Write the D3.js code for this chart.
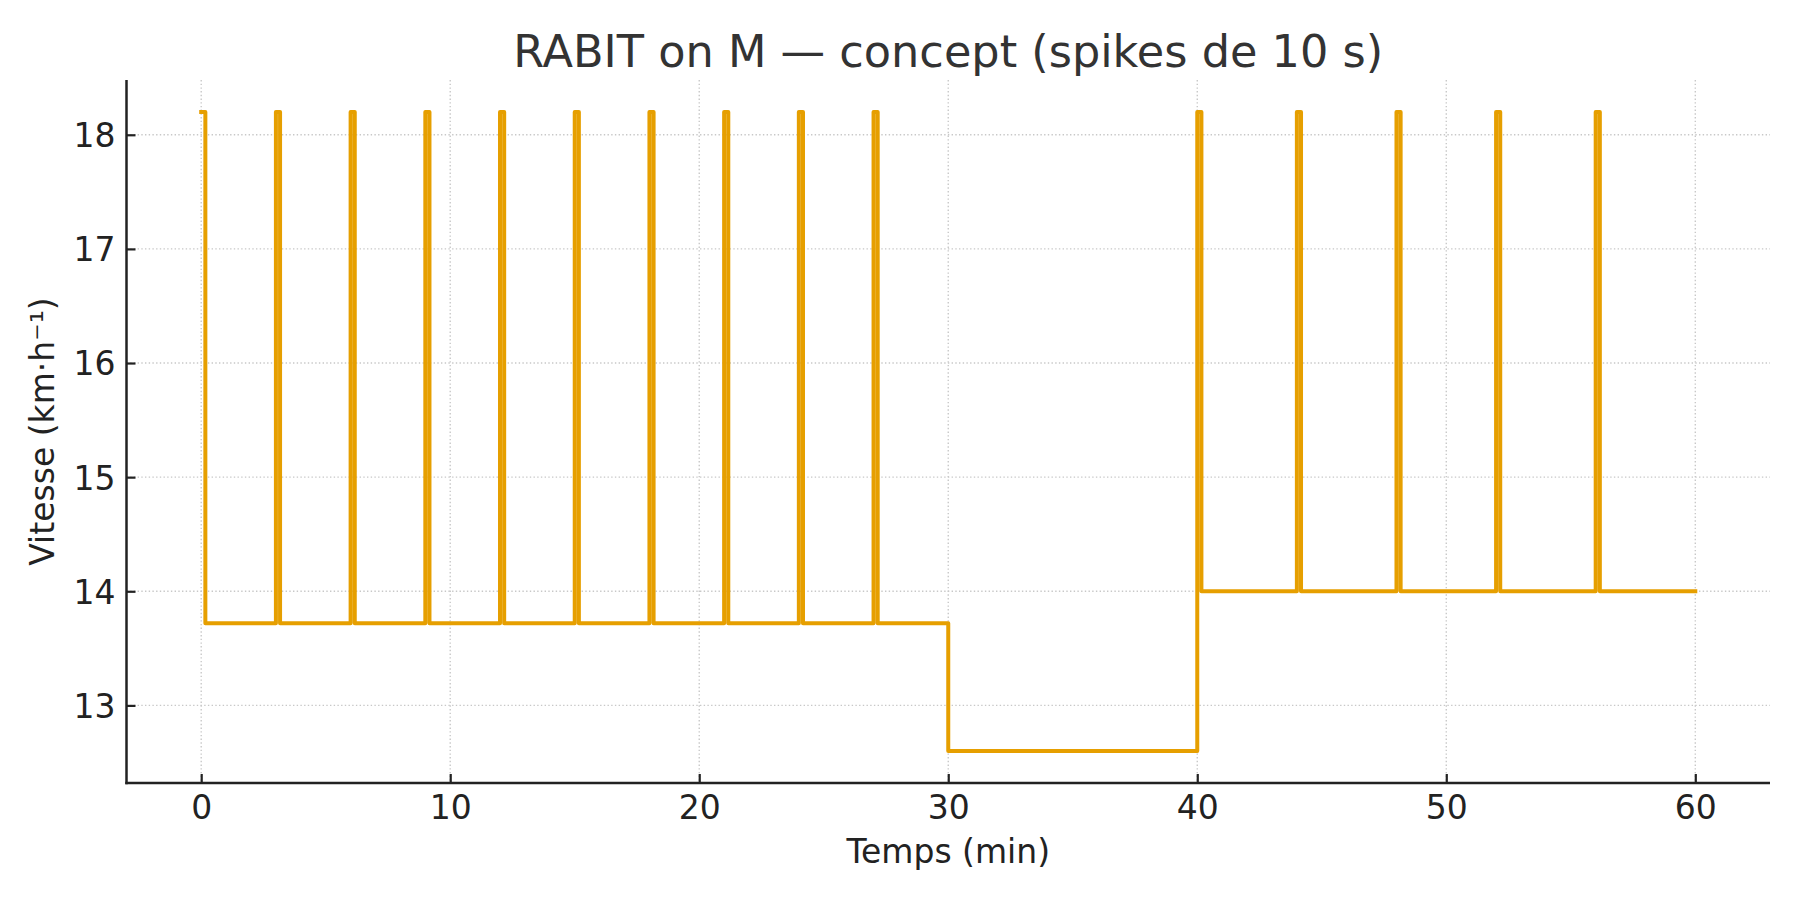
<!DOCTYPE html>
<html>
<head>
<meta charset="utf-8">
<script src="https://cdn.jsdelivr.net/npm/d3@7"></script>
<style>
  html, body { margin: 0; padding: 0; background: #fff; }
  svg { display: block; font-family: "DejaVu Sans", sans-serif; }
</style>
</head>
<body>
<svg id="chart" width="1800" height="900"></svg>
<script>
// ---- data ----
const titleText = "RABIT on M — concept (spikes de 10 s)";
const xLabel = "Temps (min)";
const yLabel = "Vitesse (km·h⁻¹)";
// step profile: time (min) at which each speed starts
const timesMin = [
  0, 0.1667, 3, 3.1667, 6, 6.1667, 9, 9.1667, 12, 12.1667,
  15, 15.1667, 18, 18.1667, 21, 21.1667, 24, 24.1667, 27, 27.1667,
  30, 40, 40.1667, 44, 44.1667, 48, 48.1667, 52, 52.1667, 56, 56.1667, 60
];
const speedKmh = [
  18.2, 13.72, 18.2, 13.72, 18.2, 13.72, 18.2, 13.72, 18.2, 13.72,
  18.2, 13.72, 18.2, 13.72, 18.2, 13.72, 18.2, 13.72, 18.2, 13.72,
  12.6, 18.2, 14.0, 18.2, 14.0, 18.2, 14.0, 18.2, 14.0, 18.2, 14.0, 14.0
];
const xTicks = [0, 10, 20, 30, 40, 50, 60];
const yTicks = [13, 14, 15, 16, 17, 18];
const xDomain = [-3, 63];
const yDomain = [12.32, 18.48];

// ---- layout ----
const svg = d3.select("#chart");
const mLeft = 126.5, mRight = 1770, mTop = 80, mBottom = 783;
const x = d3.scaleLinear().domain(xDomain).range([mLeft, mRight]);
const y = d3.scaleLinear().domain(yDomain).range([mBottom, mTop]);
const axisColor = "#222";
const textColor = "#222";
const lineColor = "#E69F00";
const fs = 33;

// grid
const grid = svg.append("g");
grid.selectAll("line.gx").data(xTicks).join("line")
  .attr("x1", d => x(d)).attr("x2", d => x(d))
  .attr("y1", mTop).attr("y2", mBottom)
  .attr("stroke", "#c8c8c8").attr("stroke-width", 1.4)
  .attr("stroke-dasharray", "1.4,2.3");
grid.selectAll("line.gy").data(yTicks).join("line")
  .attr("y1", d => y(d)).attr("y2", d => y(d))
  .attr("x1", mLeft).attr("x2", mRight)
  .attr("stroke", "#c8c8c8").attr("stroke-width", 1.4)
  .attr("stroke-dasharray", "1.4,2.3");

// line
const pts = timesMin.map((t, i) => [t, speedKmh[i]]);
const line = d3.line().x(d => x(d[0])).y(d => y(d[1])).curve(d3.curveStepAfter);
svg.append("path").datum(pts)
  .attr("d", line)
  .attr("fill", "none")
  .attr("stroke", lineColor)
  .attr("stroke-width", 4)
  .attr("stroke-linejoin", "round")
  .attr("stroke-linecap", "square");

// axes (ticks inward)
const xAxis = d3.axisBottom(x).tickValues(xTicks).tickSize(-9).tickPadding(0).tickFormat(d3.format("d"));
const gx = svg.append("g").attr("transform", `translate(0,${mBottom})`).call(xAxis);
gx.select(".domain").remove();
gx.selectAll(".tick line").attr("stroke", axisColor).attr("stroke-width", 2.2);
gx.selectAll(".tick text").attr("fill", textColor).attr("font-size", fs)
  .attr("font-family", "DejaVu Sans").attr("y", 36).attr("dy", 0);

const yAxis = d3.axisLeft(y).tickValues(yTicks).tickSize(-9).tickPadding(0).tickFormat(d3.format("d"));
const gy = svg.append("g").attr("transform", `translate(${mLeft},0)`).call(yAxis);
gy.select(".domain").remove();
gy.selectAll(".tick line").attr("stroke", axisColor).attr("stroke-width", 2.2);
gy.selectAll(".tick text").attr("fill", textColor).attr("font-size", fs)
  .attr("font-family", "DejaVu Sans").attr("x", -11).attr("dy", "0.36em");

// spines
svg.append("line").attr("x1", mLeft).attr("x2", mLeft).attr("y1", mTop).attr("y2", mBottom + 1.2)
  .attr("stroke", axisColor).attr("stroke-width", 2.5);
svg.append("line").attr("x1", mLeft - 1.2).attr("x2", mRight).attr("y1", mBottom).attr("y2", mBottom)
  .attr("stroke", axisColor).attr("stroke-width", 2.5);

// labels
svg.append("text").attr("x", (mLeft + mRight) / 2).attr("y", 862.5)
  .attr("text-anchor", "middle").attr("font-size", fs).attr("fill", textColor).text(xLabel);
svg.append("text").attr("transform", `translate(53.5,${(mTop + mBottom) / 2}) rotate(-90)`)
  .attr("text-anchor", "middle").attr("font-size", fs).attr("fill", textColor).text(yLabel);
svg.append("text").attr("x", (mLeft + mRight) / 2).attr("y", 66.5)
  .attr("text-anchor", "middle").attr("font-size", 44.6).attr("fill", "#333").text(titleText);
</script>
</body>
</html>
